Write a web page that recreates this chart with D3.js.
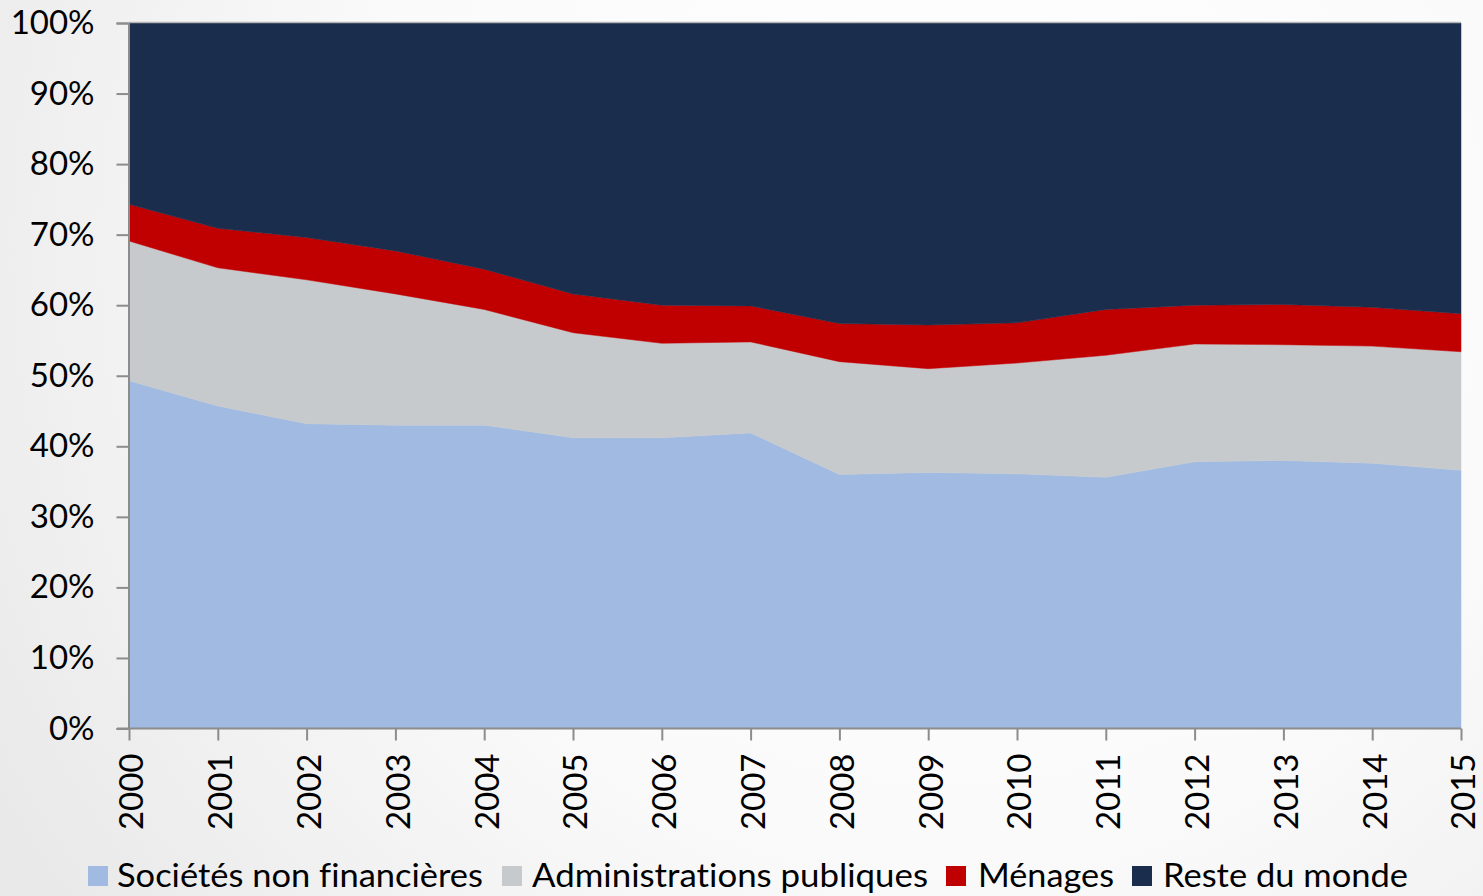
<!DOCTYPE html>
<html>
<head>
<meta charset="utf-8">
<script src="https://cdn.jsdelivr.net/npm/d3@7"></script>
<style>
  html, body { margin: 0; padding: 0; }
  body { width: 1483px; height: 896px; overflow: hidden; }
  text { font-family: Lato, "Open Sans", sans-serif; fill: #000; font-variant-ligatures: none; font-feature-settings: "liga" 0, "clig" 0; }
</style>
</head>
<body>
<svg id="chart" width="1483" height="896"></svg>
<script>
const years = ["2000","2001","2002","2003","2004","2005","2006","2007","2008","2009","2010","2011","2012","2013","2014","2015"];
const seriesNames = ["Sociétés non financières", "Administrations publiques", "Ménages", "Reste du monde"];
const societes = [49.3, 45.7, 43.2, 43.0, 43.0, 41.2, 41.2, 41.9, 36.0, 36.3, 36.1, 35.6, 37.8, 38.0, 37.6, 36.6];
const administrations = [19.8, 19.6, 20.4, 18.6, 16.4, 14.9, 13.4, 12.9, 16.0, 14.7, 15.7, 17.3, 16.7, 16.4, 16.6, 16.8];
const menages = [5.2, 5.6, 6.0, 6.1, 5.7, 5.5, 5.4, 5.1, 5.4, 6.2, 5.7, 6.5, 5.5, 5.7, 5.5, 5.4];
const resteMonde = [25.7, 29.1, 30.4, 32.3, 34.9, 38.4, 40.0, 40.1, 42.6, 42.8, 42.5, 40.6, 40.0, 39.9, 40.3, 41.2];
const yTicks = [0, 0.1, 0.2, 0.3, 0.4, 0.5, 0.6, 0.7, 0.8, 0.9, 1.0];
const colors = ["#a0bae2", "#c7cacd", "#c00000", "#1a2d4c"];

const svg = d3.select("#chart");
const W = 1483, H = 896;

// background radial gradient
const defs = svg.append("defs");
const grad = defs.append("radialGradient").attr("id", "bg")
  .attr("gradientUnits", "userSpaceOnUse")
  .attr("cx", 950).attr("cy", 250).attr("r", 1100);
grad.append("stop").attr("offset", "0%").attr("stop-color", "#ffffff");
grad.append("stop").attr("offset", "55%").attr("stop-color", "#fafafa");
grad.append("stop").attr("offset", "100%").attr("stop-color", "#e9e9e9");
svg.append("rect").attr("width", W).attr("height", H).attr("fill", "url(#bg)");

const mLeft = 129, mRight = 1461, mTop = 23, mBottom = 728.5;

// build rows and normalise to 100%
const rows = years.map((yr, i) => {
  const vals = [societes[i], administrations[i], menages[i], resteMonde[i]];
  const tot = d3.sum(vals);
  const r = { year: yr };
  seriesNames.forEach((n, k) => r[n] = vals[k] / tot);
  return r;
});

const x = d3.scalePoint().domain(years).range([mLeft, mRight]);
const y = d3.scaleLinear().domain([0, 1]).range([mBottom, mTop]);

const stacked = d3.stack().keys(seriesNames)(rows);

const area = d3.area()
  .x(d => x(d.data.year))
  .y0(d => y(d[0]))
  .y1(d => y(d[1]));

svg.append("g").selectAll("path").data(stacked).join("path")
  .attr("d", area)
  .attr("fill", (d, i) => colors[i])
  .attr("stroke", (d, i) => colors[i])
  .attr("stroke-width", 0.5);

// top border line of plot area
svg.append("line")
  .attr("x1", mLeft).attr("x2", mRight)
  .attr("y1", y(1) - 0.5).attr("y2", y(1) - 0.5)
  .attr("stroke", "#b4b4b4").attr("stroke-width", 1.5);

// Y axis
const yAxis = d3.axisLeft(y).tickValues(yTicks)
  .tickFormat(d3.format(".0%")).tickSize(12).tickPadding(22);
const gy = svg.append("g").attr("transform", `translate(${mLeft - 0.5},0)`).call(yAxis);
gy.select(".domain").attr("stroke", "#8c8c8c").attr("stroke-width", 2);
gy.selectAll(".tick line").attr("stroke", "#8c8c8c").attr("stroke-width", 2);
gy.selectAll(".tick text").attr("font-size", 33).attr("font-family", "Lato, sans-serif").attr("fill", "#000");

// X axis
const xAxis = d3.axisBottom(x).tickSize(12).tickPadding(0);
const gx = svg.append("g").attr("transform", `translate(0,${mBottom})`).call(xAxis);
gx.select(".domain").attr("stroke", "#8c8c8c").attr("stroke-width", 2)
  .attr("d", `M${mLeft - 12},0H${mRight}`);
gx.selectAll(".tick line").attr("stroke", "#8c8c8c").attr("stroke-width", 2);
gx.selectAll(".tick text")
  .attr("font-size", 33).attr("font-family", "Lato, sans-serif").attr("fill", "#000")
  .attr("text-anchor", "end")
  .attr("dy", "0.36em")
  .attr("transform", "translate(2,25) rotate(-90)")
  .attr("x", 0).attr("y", 0);

// Legend
const legendItems = [
  { name: seriesNames[0], sx: 88, tx: 117, tw: 366 },
  { name: seriesNames[1], sx: 502, tx: 532, tw: 396 },
  { name: seriesNames[2], sx: 946, tx: 978, tw: 136 },
  { name: seriesNames[3], sx: 1132, tx: 1163, tw: 245 }
];
const lg = svg.append("g");
legendItems.forEach((it, i) => {
  lg.append("rect").attr("x", it.sx).attr("y", 866).attr("width", 20).attr("height", 20).attr("fill", colors[i]);
  lg.append("text").attr("x", it.tx).attr("y", 887)
    .attr("font-size", 32)
    .attr("textLength", it.tw).attr("lengthAdjust", "spacingAndGlyphs")
    .text(it.name);
});
</script>
</body>
</html>
